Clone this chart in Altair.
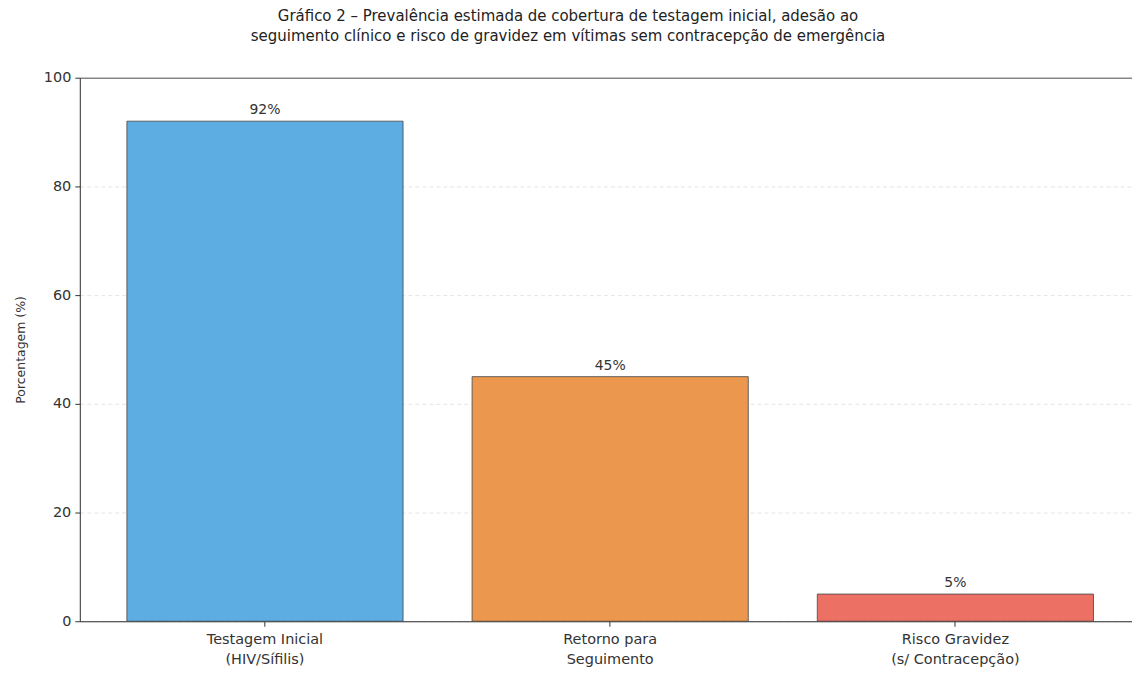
import altair as alt
import pandas as pd

categories = ["Testagem Inicial\n(HIV/Sífilis)", "Retorno para\nSeguimento", "Risco Gravidez\n(s/ Contracepção)"]
values = [92, 45, 5]
value_labels = ["92%", "45%", "5%"]
colors = ["#5DADE2", "#EB984E", "#EC7063"]

df = pd.DataFrame({"cat": categories, "val": values, "lab": value_labels, "col": colors})

FONT = "DejaVu Sans"

x = alt.X("cat:N", sort=None, title=None,
          scale=alt.Scale(paddingInner=0.2, paddingOuter=0.124, align=0.55),
          axis=alt.Axis(labelAngle=0, labelExpr="split(datum.label, '\\n')",
                        labelFontSize=14.5, labelColor="#333", labelFont=FONT,
                        tickSize=5, tickColor="#333", domainColor="#333",
                        labelPadding=6, labelLineHeight=20))
y = alt.Y("val:Q", title="Porcentagem (%)",
          scale=alt.Scale(domain=[0, 100], nice=False),
          axis=alt.Axis(values=[0, 20, 40, 60, 80, 100], grid=True,
                        gridDash={"condition": {"test": "datum.value === 100", "value": []}, "value": [4, 3]},
                        gridColor={"condition": {"test": "datum.value === 100", "value": "#333"}, "value": "#dddddd"},
                        gridWidth=0.8,
                        labelFontSize=14.5, labelColor="#333", labelFont=FONT,
                        titleFontSize=12.5, titleFontWeight="normal", titleColor="#333",
                        titleFont=FONT, titlePadding=16,
                        tickSize=5, tickColor="#333", domainColor="#333", labelPadding=4))

bars = alt.Chart(df).mark_bar(stroke="#444", strokeWidth=0.8).encode(
    x=x, y=y, color=alt.Color("col:N", scale=None)
)
text = alt.Chart(df).mark_text(dy=-11, fontSize=14, color="#333", font=FONT).encode(
    x=alt.X("cat:N", sort=None), y="val:Q", text="lab:N"
)

chart = (bars + text).properties(
    width=1055, height=545,
    autosize=alt.AutoSizeParams(type="none"),
    padding={"left": 72, "top": 69, "right": 0, "bottom": 50},
    title=alt.Title(
        text=["Gráfico 2 – Prevalência estimada de cobertura de testagem inicial, adesão ao",
              "seguimento clínico e risco de gravidez em vítimas sem contracepção de emergência"],
        fontSize=15, fontWeight="normal", font=FONT, color="#222",
        anchor="middle", dx=-38, offset=26, lineHeight=20),
).configure_view(stroke="#333", strokeWidth=1).configure(background="white")

chart.save("out.html", embed_options={"renderer": "svg", "actions": False})
